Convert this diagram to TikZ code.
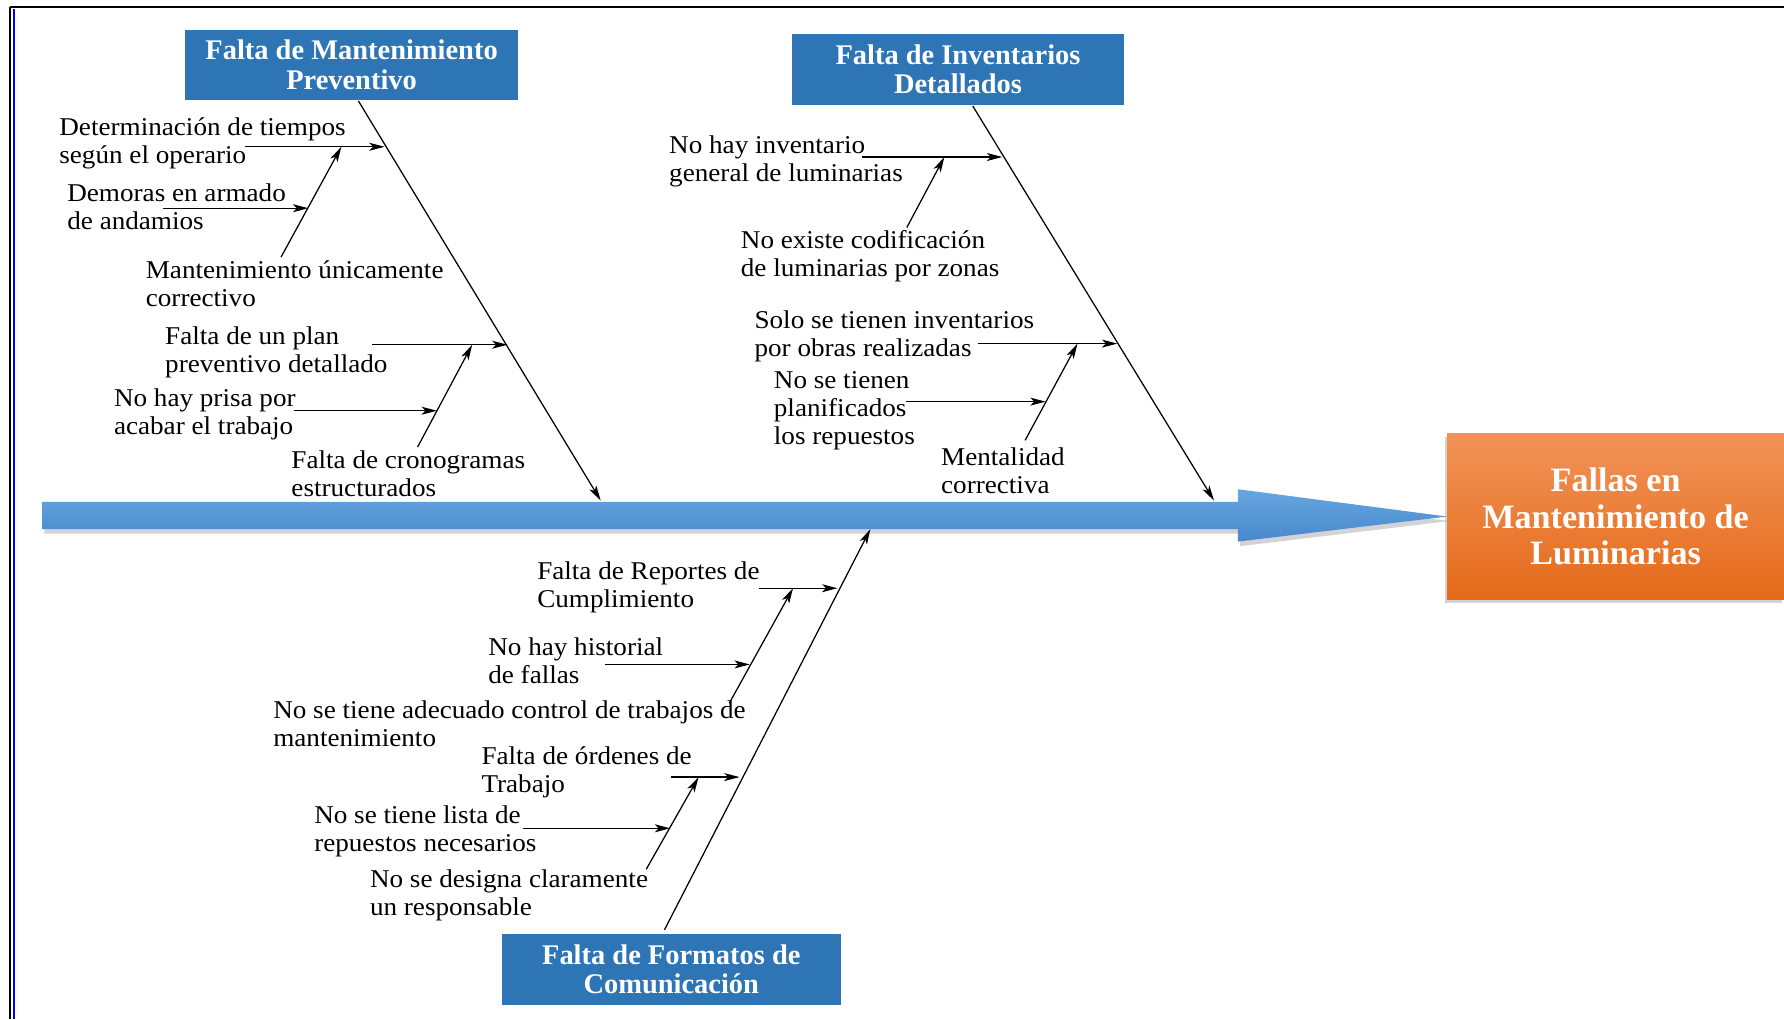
\documentclass[tikz,border=0pt]{standalone}
\usepackage{fontspec}
\setmainfont{Liberation Serif}
\newfontfamily\causefont[FakeStretch=1.06]{Liberation Serif}
\usetikzlibrary{arrows.meta, calc, shadows}
\definecolor{hdrblue}{HTML}{2E75B6}
\definecolor{spinetop}{HTML}{67A6DE}
\definecolor{spinebot}{HTML}{4888CE}
\definecolor{goaltop}{HTML}{F19358}
\definecolor{goalbot}{HTML}{E56A1A}
\tikzset{
    >={Stealth[length=13.5pt,width=7pt,inset=3.5pt]},
    hdr/.style ={rectangle, fill=hdrblue, text=white, align=center, inner sep=0pt,
        minimum width=292pt, minimum height=61pt, font=\bfseries\fontsize{25}{26}\selectfont},
    goal/.style ={rectangle, top color=goaltop, bottom color=goalbot, text=white, align=center,
        minimum width=296pt, minimum height=146pt, inner sep=0pt,
        drop shadow={shadow xshift=-2pt, shadow yshift=-3pt, opacity=.35},
        font=\bfseries\fontsize{30}{32}\selectfont},
    cause/.style = {anchor=west, align=left, inner sep=0pt, font=\causefont\fontsize{22.5}{24.5}\selectfont},
    arr/.style = {->, line width=1.1pt},
    spine/.style = {top color=spinetop, bottom color=spinebot,
        drop shadow={shadow xshift=2pt, shadow yshift=-4pt, opacity=.35}}
}
\begin{document}
\begin{tikzpicture}[x=1pt,y=-1pt]
  \useasboundingbox (0,0) rectangle (1568,896);

  % marco
  \draw[line width=2.2pt] (9,6) -- (1568,6);
  \draw[line width=2.2pt] (9,6) -- (9,896);
  \draw[blue, line width=2pt] (12.5,8) -- (12.5,896);

  % efecto
  \node[goal] (g) at (1420,454) {Fallas en\\Mantenimiento de\\Luminarias};
  \path[spine] (37,441) -- (1088,441) -- (1088,430) -- (g.west) -- (1088,476)
     -- (1088,465) -- (37,465) -- cycle;

  % categorias
  \node[hdr] (m0) at (309,57) {Falta de Mantenimiento\\Preventivo};
  \node[hdr, minimum height=62pt] (i0) at (842,61) {Falta de Inventarios\\Detallados};
  \node[hdr, minimum width=298pt, minimum height=63pt] (f0) at (590,852) {Falta de Formatos de\\Comunicación};

  % causas
  \node[cause] (m1) at (52,126) {Determinación de tiempos\\según el operario};
  \node[cause] (m2) at (59,182) {Demoras en armado\\de andamios};
  \node[cause] (m3) at (128,249) {Mantenimiento únicamente\\correctivo};
  \node[cause] (m4) at (145,310) {Falta de un plan\\preventivo detallado};
  \node[cause] (m5) at (100,364) {No hay prisa por\\acabar el trabajo};
  \node[cause] (m6) at (256,416) {Falta de cronogramas\\estructurados};

  \node[cause] (i1) at (588,142) {No hay inventario\\general de luminarias};
  \node[cause] (i2) at (651,225) {No existe codificación\\de luminarias por zonas};
  \node[cause] (i3) at (663,296) {Solo se tienen inventarios\\por obras realizadas};
  \node[cause] (i4) at (680,361) {No se tienen\\planificados\\los repuestos};
  \node[cause] (i5) at (827,414) {Mentalidad\\correctiva};

  \node[cause] (f1) at (472,516) {Falta de Reportes de\\Cumplimiento};
  \node[cause] (f2) at (429,581) {No hay historial\\de fallas};
  \node[cause] (f3) at (240,636) {No se tiene adecuado control de trabajos de\\mantenimiento};
  \node[cause] (f4) at (423,679) {Falta de órdenes de\\Trabajo};
  \node[cause] (f5) at (276,731) {No se tiene lista de\\repuestos necesarios};
  \node[cause] (f6) at (325,787) {No se designa claramente\\un responsable};

  % puntos de las espinas
  \coordinate (mtip) at (528,440);
  \coordinate (ma) at (338,129);
  \coordinate (mb) at (446,303);
  \coordinate (itip) at (1067,440);
  \coordinate (ia) at (881,138);
  \coordinate (ib) at (982,302);
  \coordinate (ftip) at (765,465);
  \coordinate (fa) at (736,517);
  \coordinate (fb) at (650,683);

  % espinas principales
  \draw[arr] ($(m0.south)+(6,1)$) -- (mtip);
  \draw[arr] ($(i0.south)+(13,1)$) -- (itip);
  \draw[arr] ($(f0.north)+(-6,-3)$) -- (ftip);

  % sub-causas
  \coordinate (m1s) at (215,129);
  \coordinate (m2s) at (143,183);
  \coordinate (m3s) at (247,226);
  \coordinate (m3t) at (300,129);
  \coordinate (m2t) at (271,183);
  \draw[arr] (m1s) -- (ma);
  \draw[arr] (m3s) -- (m3t);
  \draw[arr] (m2s) -- (m2t);

  \coordinate (m4s) at (327,303);
  \coordinate (m5s) at (258,361);
  \coordinate (m5t) at (384,361);
  \coordinate (m6s) at (367,393);
  \coordinate (m6t) at (415,303);
  \draw[arr] (m4s) -- (mb);
  \draw[arr] (m6s) -- (m6t);
  \draw[arr] (m5s) -- (m5t);

  \coordinate (i1s) at (758,138);
  \coordinate (i2s) at (797,200);
  \coordinate (i2t) at (830,138);
  \draw[arr] (i1s) -- (ia);
  \draw[arr] (i2s) -- (i2t);

  \coordinate (i3s) at (860,302);
  \coordinate (i4s) at (796,353);
  \coordinate (i4t) at (919,353);
  \coordinate (i5s) at (901,387);
  \coordinate (i5t) at (947,302);
  \draw[arr] (i3s) -- (ib);
  \draw[arr] (i5s) -- (i5t);
  \draw[arr] (i4s) -- (i4t);

  \coordinate (f1s) at (667,517);
  \coordinate (f2s) at (532,584);
  \coordinate (f2t) at (659,584);
  \coordinate (f3s) at (641,618);
  \coordinate (f3t) at (697,517);
  \draw[arr] (f1s) -- (fa);
  \draw[arr] (f3s) -- (f3t);
  \draw[arr] (f2s) -- (f2t);

  \coordinate (f4s) at (590,683);
  \coordinate (f5s) at (460,728);
  \coordinate (f5t) at (589,728);
  \coordinate (f6s) at (568,764);
  \coordinate (f6t) at (614,683);
  \draw[arr] (f4s) -- (fb);
  \draw[arr] (f6s) -- (f6t);
  \draw[arr] (f5s) -- (f5t);
\end{tikzpicture}
\end{document}
